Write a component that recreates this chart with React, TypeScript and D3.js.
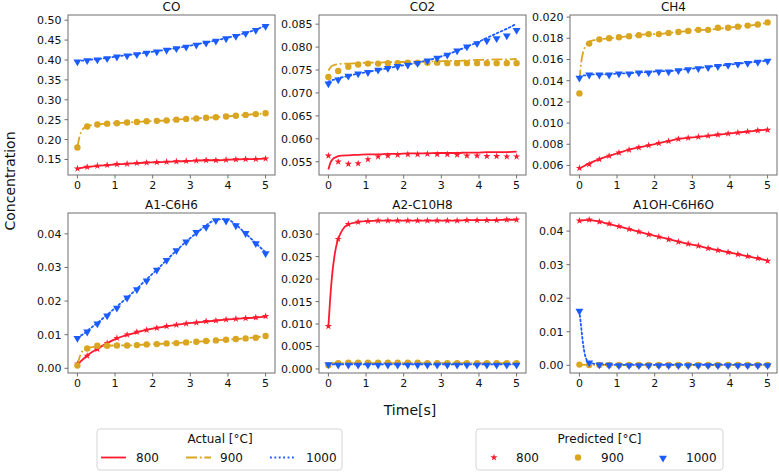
import React from "react";
import * as d3 from "d3";

// ---------- data ----------
const TIME = [0, 0.26, 0.53, 0.79, 1.05, 1.32, 1.58, 1.84, 2.11, 2.37, 2.63, 2.89, 3.16, 3.42, 3.68, 3.95, 4.21, 4.47, 4.74, 5];
const TIME_ACT = [0, 0.05, 0.1, 0.15, 0.2, 0.26, 0.53, 0.79, 1.05, 1.32, 1.58, 1.84, 2.11, 2.37, 2.63, 2.89, 3.16, 3.42, 3.68, 3.95, 4.21, 4.47, 4.74, 5];
const TEMPS = ["800", "900", "1000"];
const SPECIES = ["CO", "CO2", "CH4", "A1-C6H6", "A2-C10H8", "A1OH-C6H6O"];

// CO
const CO_ACT_800 = [0.126, 0.1275, 0.1288, 0.1298, 0.1306, 0.131, 0.134, 0.136, 0.138, 0.139, 0.141, 0.142, 0.143, 0.144, 0.145, 0.146, 0.147, 0.148, 0.148, 0.149, 0.150, 0.151, 0.151, 0.152];
const CO_ACT_900 = [0.180, 0.205, 0.219, 0.227, 0.231, 0.234, 0.238, 0.240, 0.241, 0.243, 0.244, 0.246, 0.247, 0.248, 0.250, 0.252, 0.253, 0.255, 0.256, 0.258, 0.260, 0.262, 0.264, 0.266];
const CO_ACT_1000 = [0.397, 0.3975, 0.398, 0.3985, 0.399, 0.400, 0.402, 0.405, 0.409, 0.412, 0.415, 0.419, 0.422, 0.426, 0.430, 0.434, 0.439, 0.444, 0.449, 0.455, 0.461, 0.468, 0.476, 0.487];
const CO_PRED_800 = [0.127, 0.131, 0.134, 0.136, 0.138, 0.139, 0.141, 0.142, 0.143, 0.144, 0.145, 0.146, 0.147, 0.148, 0.148, 0.149, 0.150, 0.151, 0.151, 0.152];
const CO_PRED_900 = [0.180, 0.233, 0.238, 0.240, 0.241, 0.243, 0.244, 0.246, 0.247, 0.248, 0.250, 0.252, 0.253, 0.255, 0.256, 0.258, 0.260, 0.262, 0.264, 0.266];
const CO_PRED_1000 = [0.397, 0.400, 0.402, 0.405, 0.409, 0.412, 0.415, 0.419, 0.422, 0.426, 0.430, 0.434, 0.439, 0.444, 0.449, 0.455, 0.461, 0.468, 0.476, 0.486];

// CO2
const CO2_ACT_800 = [0.0533, 0.0547, 0.0554, 0.0558, 0.0560, 0.0562, 0.0564, 0.0565, 0.0566, 0.0566, 0.0567, 0.0567, 0.0568, 0.0568, 0.0568, 0.0569, 0.0569, 0.0569, 0.0570, 0.0570, 0.0571, 0.0571, 0.0571, 0.0572];
const CO2_ACT_900 = [0.0749, 0.0755, 0.0759, 0.0761, 0.0762, 0.0763, 0.0764, 0.0765, 0.0766, 0.0766, 0.0767, 0.0767, 0.0768, 0.0768, 0.0769, 0.0769, 0.0770, 0.0770, 0.0771, 0.0772, 0.0772, 0.0773, 0.0773, 0.0774];
const CO2_ACT_1000 = [0.0725, 0.0726, 0.0728, 0.0729, 0.0730, 0.0732, 0.0737, 0.0742, 0.0746, 0.0750, 0.0754, 0.0758, 0.0762, 0.0766, 0.0771, 0.0777, 0.0784, 0.0792, 0.0801, 0.0810, 0.0820, 0.0830, 0.0840, 0.0851];
const CO2_PRED_800 = [0.0563, 0.0550, 0.0545, 0.0546, 0.0555, 0.0561, 0.0563, 0.0565, 0.0566, 0.0566, 0.0567, 0.0566, 0.0566, 0.0565, 0.0563, 0.0563, 0.0562, 0.0562, 0.0561, 0.0561];
const CO2_PRED_900 = [0.0735, 0.0748, 0.0757, 0.0762, 0.0764, 0.0764, 0.0765, 0.0765, 0.0766, 0.0766, 0.0766, 0.0766, 0.0765, 0.0765, 0.0765, 0.0765, 0.0765, 0.0765, 0.0765, 0.0765];
const CO2_PRED_1000 = [0.0721, 0.0730, 0.0738, 0.0743, 0.0746, 0.0751, 0.0755, 0.0759, 0.0762, 0.0766, 0.0771, 0.0777, 0.0784, 0.0793, 0.0802, 0.0809, 0.0815, 0.0820, 0.0826, 0.0838];

// CH4
const CH4_ACT_800 = [0.0057, 0.0058, 0.0059, 0.0060, 0.0061, 0.0062, 0.0066, 0.0069, 0.0072, 0.0075, 0.0077, 0.0079, 0.0081, 0.0083, 0.0085, 0.0086, 0.0087, 0.0088, 0.0089, 0.0090, 0.0091, 0.0092, 0.0093, 0.0094];
const CH4_ACT_900 = [0.0140, 0.0158, 0.0167, 0.0172, 0.0175, 0.0177, 0.0179, 0.0180, 0.0181, 0.0182, 0.0183, 0.0184, 0.0184, 0.0185, 0.0186, 0.0187, 0.0188, 0.0188, 0.0189, 0.0190, 0.0191, 0.0192, 0.0193, 0.0195];
const CH4_ACT_1000 = [0.0144, 0.0144, 0.0145, 0.0145, 0.0145, 0.0146, 0.0146, 0.0146, 0.0147, 0.0147, 0.0148, 0.0148, 0.0149, 0.0149, 0.0150, 0.0151, 0.0152, 0.0153, 0.0154, 0.0155, 0.0156, 0.0157, 0.0158, 0.0159];
const CH4_PRED_800 = [0.00575, 0.0061, 0.00657, 0.0069, 0.0072, 0.00747, 0.0077, 0.0079, 0.0081, 0.0083, 0.0085, 0.0086, 0.0087, 0.0088, 0.0089, 0.0090, 0.0091, 0.0092, 0.0093, 0.00935];
const CH4_PRED_900 = [0.0128, 0.0175, 0.0179, 0.0180, 0.0181, 0.0182, 0.0183, 0.0184, 0.0184, 0.0185, 0.0186, 0.0187, 0.0188, 0.0188, 0.0190, 0.0190, 0.0191, 0.0192, 0.0193, 0.0195];
const CH4_PRED_1000 = [0.0143, 0.0146, 0.0146, 0.0146, 0.0147, 0.0147, 0.0148, 0.0148, 0.0149, 0.0149, 0.0150, 0.0151, 0.0152, 0.0153, 0.0154, 0.0155, 0.0156, 0.0157, 0.0158, 0.0159];

// A1-C6H6
const A1_ACT_800 = [0.0010, 0.0016, 0.0022, 0.0027, 0.0032, 0.0038, 0.0058, 0.0075, 0.0089, 0.0099, 0.0107, 0.0114, 0.0120, 0.0125, 0.0129, 0.0133, 0.0136, 0.0139, 0.0142, 0.0145, 0.0147, 0.0149, 0.0151, 0.0154];
const A1_ACT_900 = [0.0008, 0.0030, 0.0045, 0.0053, 0.0057, 0.0060, 0.0065, 0.0067, 0.0068, 0.0068, 0.0069, 0.0071, 0.0072, 0.0074, 0.0075, 0.0077, 0.0079, 0.0081, 0.0083, 0.0085, 0.0087, 0.0089, 0.0092, 0.0096];
const A1_ACT_1000 = [0.0091, 0.0094, 0.0098, 0.0101, 0.0105, 0.0111, 0.0135, 0.0159, 0.0184, 0.0210, 0.0237, 0.0265, 0.0293, 0.0322, 0.0350, 0.0377, 0.0402, 0.0425, 0.0442, 0.0444, 0.0427, 0.0401, 0.0372, 0.0345];
const A1_PRED_800 = [0.0013, 0.0037, 0.0057, 0.0075, 0.0090, 0.0100, 0.0108, 0.0114, 0.0120, 0.0125, 0.0129, 0.0133, 0.0136, 0.0140, 0.0142, 0.0145, 0.0147, 0.0149, 0.0151, 0.0155];
const A1_PRED_900 = [0.0008, 0.0059, 0.0067, 0.0067, 0.0068, 0.0068, 0.0069, 0.0071, 0.0072, 0.0074, 0.0075, 0.0077, 0.0079, 0.0081, 0.0083, 0.0085, 0.0087, 0.0089, 0.0091, 0.0096];
const A1_PRED_1000 = [0.0091, 0.0110, 0.0134, 0.0158, 0.0181, 0.0211, 0.0236, 0.0262, 0.0294, 0.0323, 0.0352, 0.0378, 0.0406, 0.0421, 0.0441, 0.0440, 0.0426, 0.0403, 0.0373, 0.0343];

// A2-C10H8
const A2_ACT_800 = [0.0095, 0.0160, 0.0210, 0.0245, 0.0270, 0.0289, 0.0322, 0.0327, 0.0329, 0.0330, 0.0330, 0.0330, 0.0330, 0.0330, 0.0330, 0.0330, 0.0330, 0.0330, 0.0331, 0.0331, 0.0331, 0.0331, 0.0332, 0.0332];
const A2_ACT_900 = [0.0010, 0.0012, 0.0013, 0.0013, 0.0013, 0.0013, 0.0013, 0.0013, 0.0013, 0.0013, 0.0013, 0.0013, 0.0013, 0.0013, 0.0013, 0.0013, 0.0013, 0.0013, 0.0013, 0.0013, 0.0013, 0.0013, 0.0013, 0.0013];
const A2_ACT_1000 = [0.0011, 0.0011, 0.0010, 0.0010, 0.0010, 0.0010, 0.0010, 0.0010, 0.0010, 0.0010, 0.0010, 0.0010, 0.0010, 0.0010, 0.0010, 0.0010, 0.0010, 0.0010, 0.0010, 0.0010, 0.0010, 0.0010, 0.0010, 0.0010];
const A2_PRED_800 = [0.0095, 0.0289, 0.0322, 0.0327, 0.0329, 0.0330, 0.0330, 0.0330, 0.0330, 0.0330, 0.0330, 0.0330, 0.0330, 0.0330, 0.0331, 0.0331, 0.0331, 0.0331, 0.0332, 0.0332];
const A2_PRED_900 = [0.0008, 0.0013, 0.0014, 0.0014, 0.0014, 0.0014, 0.0014, 0.0014, 0.0014, 0.0014, 0.0013, 0.0013, 0.0013, 0.0013, 0.0013, 0.0013, 0.0013, 0.0013, 0.0013, 0.0013];
const A2_PRED_1000 = [0.0011, 0.0010, 0.0010, 0.0010, 0.0010, 0.0010, 0.0010, 0.0010, 0.0010, 0.0010, 0.0010, 0.0010, 0.0010, 0.0010, 0.0010, 0.0010, 0.0010, 0.0010, 0.0010, 0.0010];

// A1OH-C6H6O
const A1OH_ACT_800 = [0.0430, 0.0431, 0.0432, 0.0433, 0.0433, 0.0433, 0.0428, 0.0421, 0.0414, 0.0406, 0.0398, 0.0390, 0.0383, 0.0376, 0.0369, 0.0362, 0.0356, 0.0349, 0.0343, 0.0337, 0.0331, 0.0325, 0.0319, 0.0312];
const A1OH_ACT_900 = [0.0001, 0.0001, 0.0001, 0.0001, 0.0001, 0.0001, 0.0001, 0.0001, 0.0001, 0.0001, 0.0001, 0.0001, 0.0001, 0.0001, 0.0001, 0.0001, 0.0001, 0.0001, 0.0001, 0.0001, 0.0001, 0.0001, 0.0001, 0.0001];
const A1OH_ACT_1000 = [0.0163, 0.0110, 0.0062, 0.0030, 0.0015, 0.0008, 0.0003, 0.0002, 0.0001, 0.0001, 0.0001, 0.0001, 0.0001, 0.0001, 0.0001, 0.0001, 0.0001, 0.0001, 0.0001, 0.0001, 0.0001, 0.0001, 0.0001, 0.0001];
const A1OH_PRED_800 = [0.0431, 0.0434, 0.0428, 0.0422, 0.0414, 0.0406, 0.0398, 0.0390, 0.0383, 0.0375, 0.0368, 0.0362, 0.0356, 0.0349, 0.0343, 0.0337, 0.0331, 0.0325, 0.0319, 0.0311];
const A1OH_PRED_900 = [0.0002, 0.0001, 0.0001, 0.0001, 0.0001, 0.0001, 0.0001, 0.0001, 0.0001, 0.0001, 0.0001, 0.0001, 0.0001, 0.0001, 0.0001, 0.0001, 0.0001, 0.0001, 0.0001, 0.0001];
const A1OH_PRED_1000 = [0.0163, 0.0009, 0.0003, 0.0002, 0.0001, 0.0001, 0.0001, 0.0001, 0.0001, 0.0001, 0.0001, 0.0001, 0.0001, 0.0001, 0.0001, 0.0001, 0.0001, 0.0001, 0.0001, 0.0001];

// tick values
const X_TICKS = [0, 1, 2, 3, 4, 5];
const Y_TICKS_CO = [0.15, 0.2, 0.25, 0.3, 0.35, 0.4, 0.45, 0.5];
const Y_TICKS_CO2 = [0.055, 0.06, 0.065, 0.07, 0.075, 0.08, 0.085];
const Y_TICKS_CH4 = [0.006, 0.008, 0.01, 0.012, 0.014, 0.016, 0.018, 0.02];
const Y_TICKS_A1 = [0, 0.01, 0.02, 0.03, 0.04];
const Y_TICKS_A2 = [0, 0.005, 0.01, 0.015, 0.02, 0.025, 0.03];
const Y_TICKS_A1OH = [0, 0.01, 0.02, 0.03, 0.04];

// ---------- panels (built from the arrays) ----------
const PANELS = [
  { name: SPECIES[0], act: [CO_ACT_800, CO_ACT_900, CO_ACT_1000], pred: [CO_PRED_800, CO_PRED_900, CO_PRED_1000], ticks: Y_TICKS_CO, dec: 2, dom: [0.111, 0.513] },
  { name: SPECIES[1], act: [CO2_ACT_800, CO2_ACT_900, CO2_ACT_1000], pred: [CO2_PRED_800, CO2_PRED_900, CO2_PRED_1000], ticks: Y_TICKS_CO2, dec: 3, dom: [0.0521, 0.0870] },
  { name: SPECIES[2], act: [CH4_ACT_800, CH4_ACT_900, CH4_ACT_1000], pred: [CH4_PRED_800, CH4_PRED_900, CH4_PRED_1000], ticks: Y_TICKS_CH4, dec: 3, dom: [0.00510, 0.0202] },
  { name: SPECIES[3], act: [A1_ACT_800, A1_ACT_900, A1_ACT_1000], pred: [A1_PRED_800, A1_PRED_900, A1_PRED_1000], ticks: Y_TICKS_A1, dec: 2, dom: [-0.0014, 0.0462] },
  { name: SPECIES[4], act: [A2_ACT_800, A2_ACT_900, A2_ACT_1000], pred: [A2_PRED_800, A2_PRED_900, A2_PRED_1000], ticks: Y_TICKS_A2, dec: 3, dom: [-0.0009, 0.0347] },
  { name: SPECIES[5], act: [A1OH_ACT_800, A1OH_ACT_900, A1OH_ACT_1000], pred: [A1OH_PRED_800, A1OH_PRED_900, A1OH_PRED_1000], ticks: Y_TICKS_A1OH, dec: 2, dom: [-0.0023, 0.0454] },
];

// ---------- styles ----------
const COLORS = ["#ff1a2e", "#daa520", "#1a5cff"];
const DASHES = ["none", "11,2.8,1.8,2.8", "1.8,2.6"];
const FONT = "DejaVu Sans, Verdana, sans-serif";
const SPINE = "#6e6e6e";

const PW = 207;
const PH = 160;
const LEFTS = [68, 319, 570];
const TOPS = [15, 213];

const starPath = d3.symbol(d3.symbolStar, 16)();
const circlePath = d3.symbol(d3.symbolCircle, 32)();
const triPath = d3.symbol(d3.symbolTriangle, 27)();

function Marker({ k, x, y }: { k: number; x: number; y: number }) {
  if (k === 0) return <path d={starPath as string} transform={`translate(${x},${y})`} fill={COLORS[0]} />;
  if (k === 1) return <path d={circlePath as string} transform={`translate(${x},${y})`} fill={COLORS[1]} />;
  return <path d={triPath as string} transform={`translate(${x},${y + 0.5}) rotate(180)`} fill={COLORS[2]} />;
}

function Panel({ p, idx }: { p: any; idx: number }) {
  const left = LEFTS[idx % 3];
  const top = TOPS[Math.floor(idx / 3)];
  const x = d3.scaleLinear().domain([-0.25, 5.25]).range([0, PW]);
  const y = d3.scaleLinear().domain(p.dom).range([PH, 0]);
  const line = d3
    .line<number>()
    .x((_, i) => x(TIME_ACT[i]))
    .y((d) => y(d))
    .curve(d3.curveMonotoneX);
  const fmt = d3.format(`.${p.dec}f`);
  return (
    <g transform={`translate(${left},${top})`}>
      <text x={PW / 2} y={-4} textAnchor="middle" fontSize={12} fontFamily={FONT} fill="#111">
        {p.name}
      </text>
      {p.act.map((vals: number[], k: number) => (
        <path
          key={"a" + k}
          d={line(vals) as string}
          fill="none"
          stroke={COLORS[k]}
          strokeWidth={1.8}
          strokeDasharray={DASHES[k]}
          strokeLinecap={k === 2 ? "round" : "butt"}
        />
      ))}
      {p.pred.map((vals: number[], k: number) => (
        <g key={"p" + k}>
          {vals.map((v, i) => (
            <Marker key={i} k={k} x={x(TIME[i])} y={y(v)} />
          ))}
        </g>
      ))}
      <rect x={0} y={0} width={PW} height={PH} fill="none" stroke={SPINE} strokeWidth={1} />
      {X_TICKS.map((t) => (
        <g key={"x" + t} transform={`translate(${x(t)},${PH})`}>
          <line y1={0} y2={3.5} stroke={SPINE} />
          <text y={14} textAnchor="middle" fontSize={11} fontFamily={FONT} fill="#111">
            {t}
          </text>
        </g>
      ))}
      {p.ticks.map((t: number) => (
        <g key={"y" + t} transform={`translate(0,${y(t)})`}>
          <line x1={0} x2={-3.5} stroke={SPINE} />
          <text x={-6.5} dy="0.36em" textAnchor="end" fontSize={11} fontFamily={FONT} fill="#111">
            {fmt(t)}
          </text>
        </g>
      ))}
    </g>
  );
}

export default function App() {
  const actLabelX = [136, 220, 306];
  const actSampleX = [101, 186, 270];
  const predMarkX = [494, 578, 663];
  const predLabelX = [516, 601, 686];
  return (
    <svg width={779} height={472} style={{ position: "absolute", left: 0, top: 0, background: "#fff" }}>
      <rect width={779} height={472} fill="#fff" />
      {PANELS.map((p, i) => (
        <Panel key={p.name} p={p} idx={i} />
      ))}
      <text
        transform="translate(15,181) rotate(-90)"
        textAnchor="middle"
        fontSize={14}
        fontFamily={FONT}
        fill="#111"
      >
        Concentration
      </text>
      <text x={410} y={415} textAnchor="middle" fontSize={14} fontFamily={FONT} fill="#111">
        Time[s]
      </text>

      {/* Actual legend */}
      <rect x={97} y={429} width={245} height={41} rx={3} fill="#fff" stroke="#d5d5d5" />
      <text x={220} y={443} textAnchor="middle" fontSize={12} fontFamily={FONT} fill="#111">
        Actual [°C]
      </text>
      {TEMPS.map((t, k) => (
        <g key={"la" + t}>
          <line
            x1={actSampleX[k]}
            x2={actSampleX[k] + 25}
            y1={457.5}
            y2={457.5}
            stroke={COLORS[k]}
            strokeWidth={1.8}
            strokeDasharray={DASHES[k]}
          />
          <text x={actLabelX[k]} y={462} fontSize={12} fontFamily={FONT} fill="#111">
            {t}
          </text>
        </g>
      ))}

      {/* Predicted legend */}
      <rect x={476} y={429} width={247} height={41} rx={3} fill="#fff" stroke="#d5d5d5" />
      <text x={599.5} y={443} textAnchor="middle" fontSize={12} fontFamily={FONT} fill="#111">
        Predicted [°C]
      </text>
      {TEMPS.map((t, k) => (
        <g key={"lp" + t}>
          <Marker k={k} x={predMarkX[k]} y={457.5} />
          <text x={predLabelX[k]} y={462} fontSize={12} fontFamily={FONT} fill="#111">
            {t}
          </text>
        </g>
      ))}
    </svg>
  );
}
